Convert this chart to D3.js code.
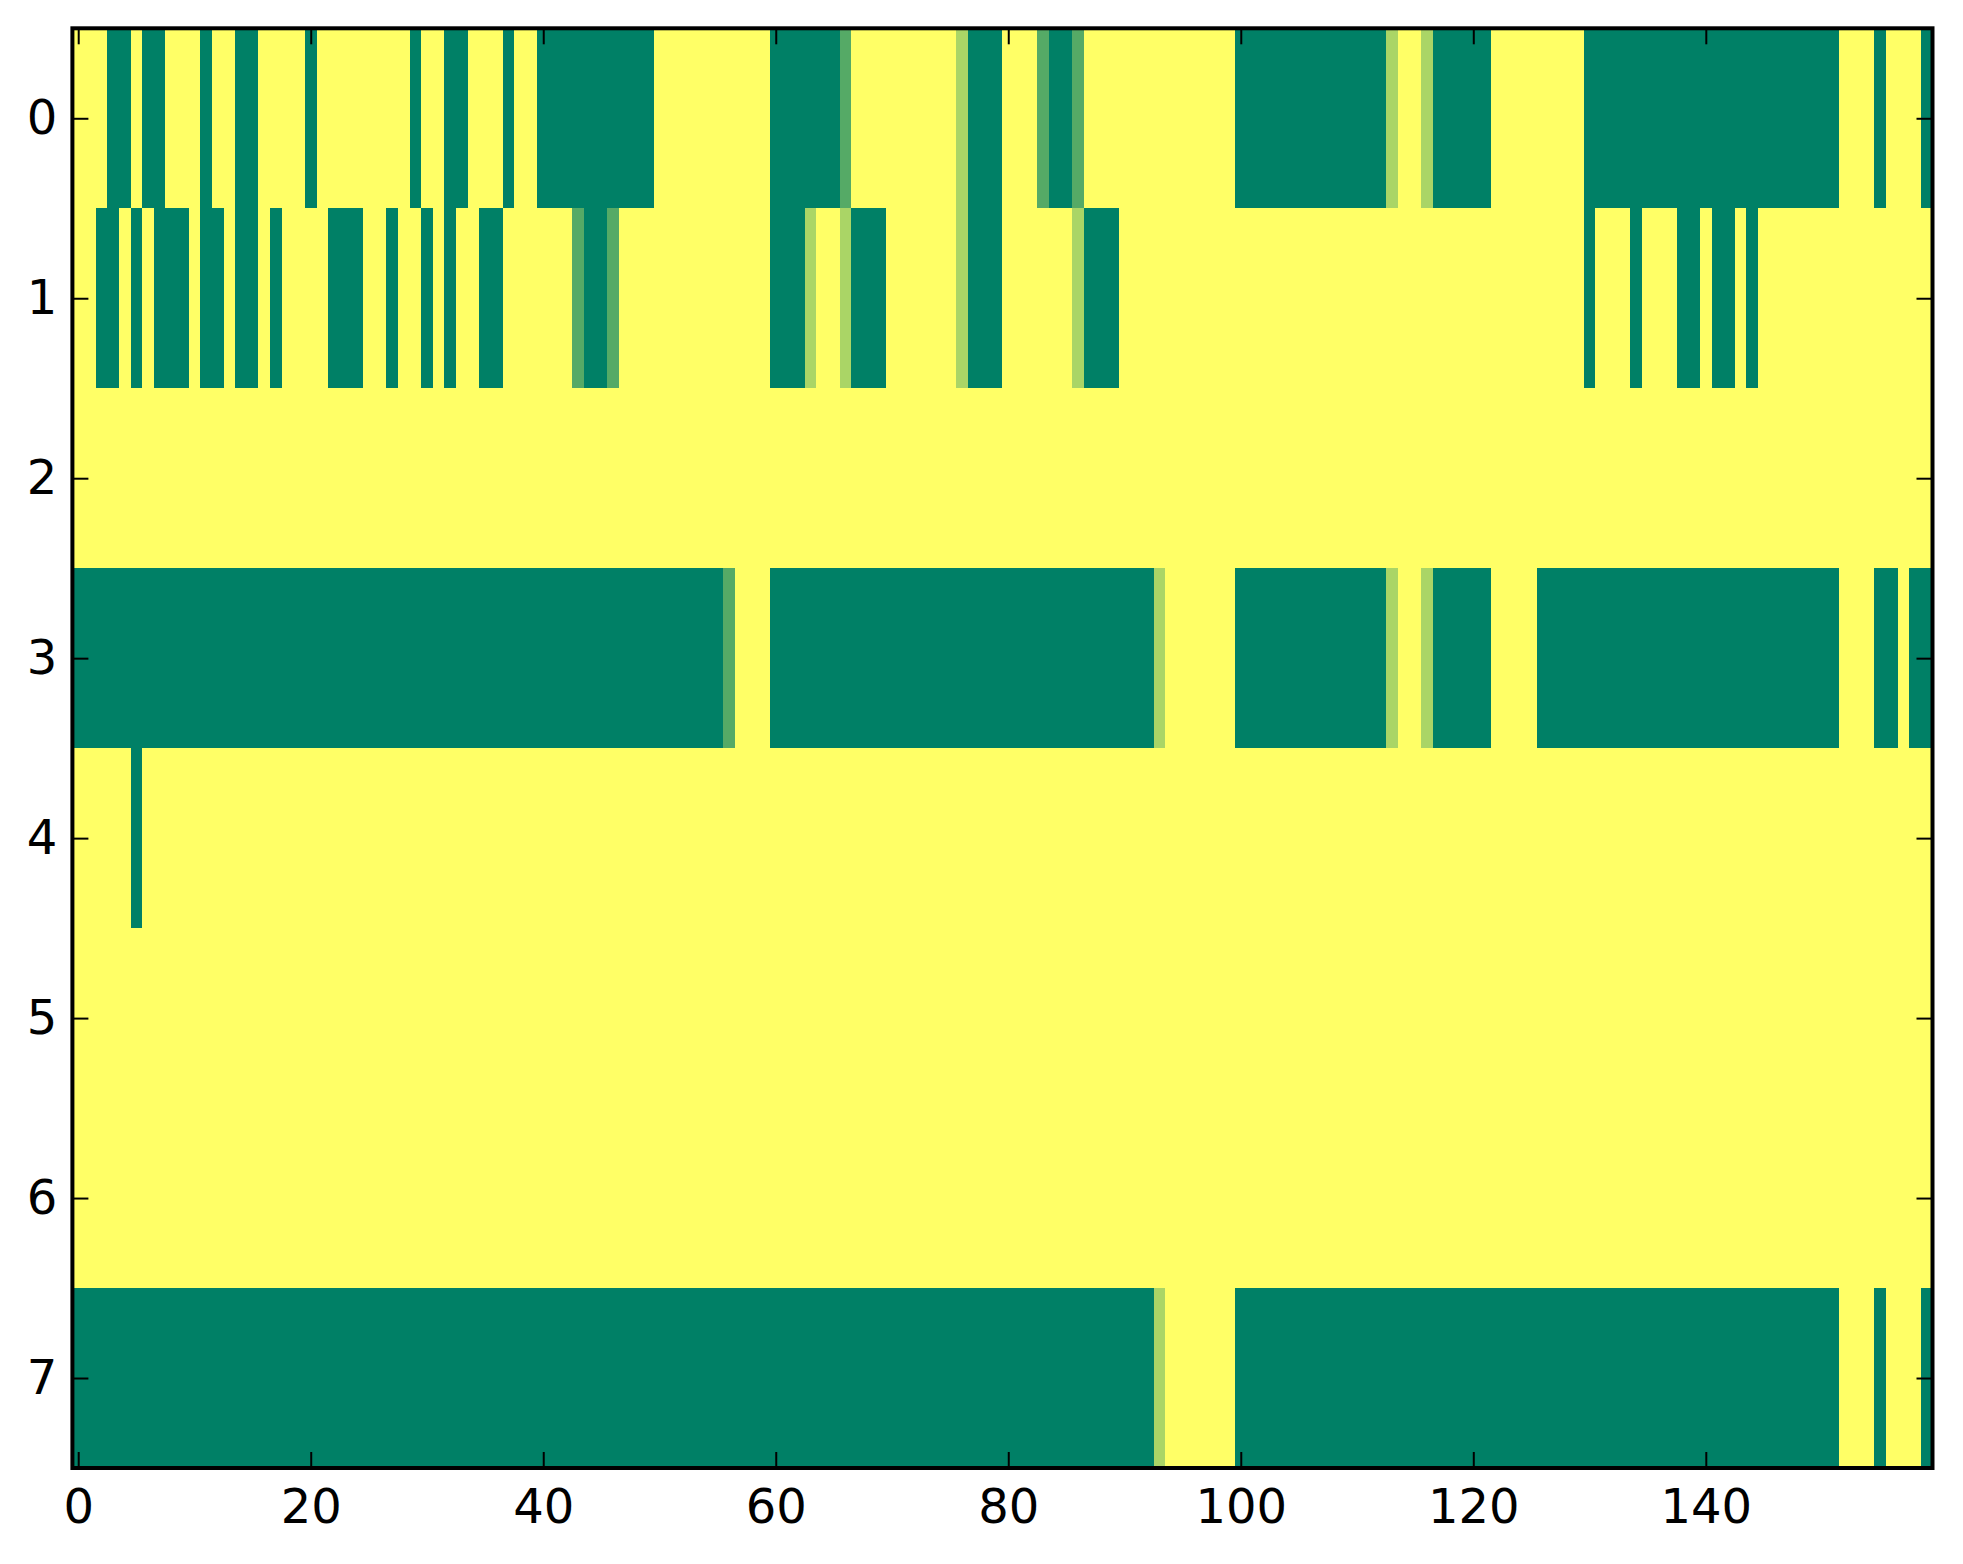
<!DOCTYPE html>
<html>
<head>
<meta charset="utf-8">
<script src="https://cdn.jsdelivr.net/npm/d3@7"></script>
<style>
  body { margin: 0; background: #ffffff; }
  .tick text { font-family: "DejaVu Sans", sans-serif; font-size: 48px; fill: #000; }
  .tick line { stroke: #000; stroke-width: 2; }
</style>
</head>
<body>
<div id="chart"></div>
<script>
var svgWidth = 1963;
var svgHeight = 1564;

// plot area in pixels
var plot = {left: 72.4, right: 1932.5, top: 28.3, bottom: 1468};

// cell levels, 0 = lowest (dark green) ... 3 = highest (yellow), 160 columns per row
var row0 = [3,3,3,0,0,3,0,0,3,3, 3,0,3,3,0,0,3,3,3,3, 0,3,3,3,3,3,3,3,3,0, 3,3,0,0,3,3,3,0,3,3,
            0,0,0,0,0,0,0,0,0,0, 3,3,3,3,3,3,3,3,3,3, 0,0,0,0,0,0,1,3,3,3, 3,3,3,3,3,3,2,0,0,0,
            3,3,3,1,0,0,1,3,3,3, 3,3,3,3,3,3,3,3,3,3, 0,0,0,0,0,0,0,0,0,0, 0,0,0,2,3,3,2,0,0,0,
            0,0,3,3,3,3,3,3,3,3, 0,0,0,0,0,0,0,0,0,0, 0,0,0,0,0,0,0,0,0,0, 0,0,3,3,3,0,3,3,3,0];
var row1 = [3,3,0,0,3,0,3,0,0,0, 3,0,0,3,0,0,3,0,3,3, 3,3,0,0,0,3,3,0,3,3, 0,3,0,3,3,0,0,3,3,3,
            3,3,3,1,0,0,1,3,3,3, 3,3,3,3,3,3,3,3,3,3, 0,0,0,2,3,3,2,0,0,0, 3,3,3,3,3,3,2,0,0,0,
            3,3,3,3,3,3,2,0,0,0, 3,3,3,3,3,3,3,3,3,3, 3,3,3,3,3,3,3,3,3,3, 3,3,3,3,3,3,3,3,3,3,
            3,3,3,3,3,3,3,3,3,3, 0,3,3,3,0,3,3,3,0,0, 3,0,0,3,0,3,3,3,3,3, 3,3,3,3,3,3,3,3,3,3];
var row2 = [3,3,3,3,3,3,3,3,3,3, 3,3,3,3,3,3,3,3,3,3, 3,3,3,3,3,3,3,3,3,3, 3,3,3,3,3,3,3,3,3,3,
            3,3,3,3,3,3,3,3,3,3, 3,3,3,3,3,3,3,3,3,3, 3,3,3,3,3,3,3,3,3,3, 3,3,3,3,3,3,3,3,3,3,
            3,3,3,3,3,3,3,3,3,3, 3,3,3,3,3,3,3,3,3,3, 3,3,3,3,3,3,3,3,3,3, 3,3,3,3,3,3,3,3,3,3,
            3,3,3,3,3,3,3,3,3,3, 3,3,3,3,3,3,3,3,3,3, 3,3,3,3,3,3,3,3,3,3, 3,3,3,3,3,3,3,3,3,3];
var row3 = [0,0,0,0,0,0,0,0,0,0, 0,0,0,0,0,0,0,0,0,0, 0,0,0,0,0,0,0,0,0,0, 0,0,0,0,0,0,0,0,0,0,
            0,0,0,0,0,0,0,0,0,0, 0,0,0,0,0,0,1,3,3,3, 0,0,0,0,0,0,0,0,0,0, 0,0,0,0,0,0,0,0,0,0,
            0,0,0,0,0,0,0,0,0,0, 0,0,0,2,3,3,3,3,3,3, 0,0,0,0,0,0,0,0,0,0, 0,0,0,2,3,3,2,0,0,0,
            0,0,3,3,3,3,0,0,0,0, 0,0,0,0,0,0,0,0,0,0, 0,0,0,0,0,0,0,0,0,0, 0,0,3,3,3,0,0,3,0,0];
var row4 = [3,3,3,3,3,0,3,3,3,3, 3,3,3,3,3,3,3,3,3,3, 3,3,3,3,3,3,3,3,3,3, 3,3,3,3,3,3,3,3,3,3,
            3,3,3,3,3,3,3,3,3,3, 3,3,3,3,3,3,3,3,3,3, 3,3,3,3,3,3,3,3,3,3, 3,3,3,3,3,3,3,3,3,3,
            3,3,3,3,3,3,3,3,3,3, 3,3,3,3,3,3,3,3,3,3, 3,3,3,3,3,3,3,3,3,3, 3,3,3,3,3,3,3,3,3,3,
            3,3,3,3,3,3,3,3,3,3, 3,3,3,3,3,3,3,3,3,3, 3,3,3,3,3,3,3,3,3,3, 3,3,3,3,3,3,3,3,3,3];
var row5 = [3,3,3,3,3,3,3,3,3,3, 3,3,3,3,3,3,3,3,3,3, 3,3,3,3,3,3,3,3,3,3, 3,3,3,3,3,3,3,3,3,3,
            3,3,3,3,3,3,3,3,3,3, 3,3,3,3,3,3,3,3,3,3, 3,3,3,3,3,3,3,3,3,3, 3,3,3,3,3,3,3,3,3,3,
            3,3,3,3,3,3,3,3,3,3, 3,3,3,3,3,3,3,3,3,3, 3,3,3,3,3,3,3,3,3,3, 3,3,3,3,3,3,3,3,3,3,
            3,3,3,3,3,3,3,3,3,3, 3,3,3,3,3,3,3,3,3,3, 3,3,3,3,3,3,3,3,3,3, 3,3,3,3,3,3,3,3,3,3];
var row6 = [3,3,3,3,3,3,3,3,3,3, 3,3,3,3,3,3,3,3,3,3, 3,3,3,3,3,3,3,3,3,3, 3,3,3,3,3,3,3,3,3,3,
            3,3,3,3,3,3,3,3,3,3, 3,3,3,3,3,3,3,3,3,3, 3,3,3,3,3,3,3,3,3,3, 3,3,3,3,3,3,3,3,3,3,
            3,3,3,3,3,3,3,3,3,3, 3,3,3,3,3,3,3,3,3,3, 3,3,3,3,3,3,3,3,3,3, 3,3,3,3,3,3,3,3,3,3,
            3,3,3,3,3,3,3,3,3,3, 3,3,3,3,3,3,3,3,3,3, 3,3,3,3,3,3,3,3,3,3, 3,3,3,3,3,3,3,3,3,3];
var row7 = [0,0,0,0,0,0,0,0,0,0, 0,0,0,0,0,0,0,0,0,0, 0,0,0,0,0,0,0,0,0,0, 0,0,0,0,0,0,0,0,0,0,
            0,0,0,0,0,0,0,0,0,0, 0,0,0,0,0,0,0,0,0,0, 0,0,0,0,0,0,0,0,0,0, 0,0,0,0,0,0,0,0,0,0,
            0,0,0,0,0,0,0,0,0,0, 0,0,0,2,3,3,3,3,3,3, 0,0,0,0,0,0,0,0,0,0, 0,0,0,0,0,0,0,0,0,0,
            0,0,0,0,0,0,0,0,0,0, 0,0,0,0,0,0,0,0,0,0, 0,0,0,0,0,0,0,0,0,0, 0,0,3,3,3,0,3,3,3,0];

var rows = [row0, row1, row2, row3, row4, row5, row6, row7];

var xTicks = [0, 20, 40, 60, 80, 100, 120, 140];
var yTicks = [0, 1, 2, 3, 4, 5, 6, 7];

var nCols = row0.length;
var nRows = rows.length;

var svg = d3.select("#chart")
    .append("svg")
    .attr("width", svgWidth)
    .attr("height", svgHeight);

svg.append("rect")
    .attr("width", svgWidth)
    .attr("height", svgHeight)
    .attr("fill", "#ffffff");

var xScale = d3.scaleLinear()
    .domain([-0.5, nCols - 0.5])
    .range([plot.left, plot.right]);

var yScale = d3.scaleLinear()
    .domain([-0.5, nRows - 0.5])
    .range([plot.top, plot.bottom]);

// "summer" colormap: dark green -> yellow, linear in rgb
var color = d3.scaleLinear()
    .domain([0, 3])
    .range(["#008066", "#ffff66"])
    .interpolate(d3.interpolateRgb);

// flatten rows into cells
var cells = [];
rows.forEach(function(r, j) {
    r.forEach(function(v, i) {
        cells.push({col: i, row: j, value: v});
    });
});

svg.append("g")
    .selectAll("rect")
    .data(cells)
    .enter()
    .append("rect")
    .attr("x", d => xScale(d.col - 0.5))
    .attr("y", d => yScale(d.row - 0.5))
    .attr("width", d => xScale(d.col + 0.5) - xScale(d.col - 0.5) + 0.5)
    .attr("height", d => yScale(d.row + 0.5) - yScale(d.row - 0.5) + 0.5)
    .attr("fill", d => color(d.value))
    .attr("shape-rendering", "crispEdges");

// axes, ticks pointing inwards like matplotlib classic
var bottomAxis = d3.axisBottom(xScale).tickValues(xTicks).tickSizeInner(-16).tickSizeOuter(0).tickPadding(21);
var topAxis = d3.axisTop(xScale).tickValues(xTicks).tickSizeInner(-16).tickSizeOuter(0).tickFormat("");
var leftAxis = d3.axisLeft(yScale).tickValues(yTicks).tickSizeInner(-16).tickSizeOuter(0).tickPadding(15);
var rightAxis = d3.axisRight(yScale).tickValues(yTicks).tickSizeInner(-16).tickSizeOuter(0).tickFormat("");

svg.append("g").attr("transform", `translate(0, ${plot.bottom})`).call(bottomAxis);
svg.append("g").attr("transform", `translate(0, ${plot.top})`).call(topAxis);
svg.append("g").attr("transform", `translate(${plot.left}, 0)`).call(leftAxis);
svg.append("g").attr("transform", `translate(${plot.right}, 0)`).call(rightAxis);

svg.selectAll(".domain").remove();

// frame
svg.append("rect")
    .attr("x", plot.left)
    .attr("y", plot.top)
    .attr("width", plot.right - plot.left)
    .attr("height", plot.bottom - plot.top)
    .attr("fill", "none")
    .attr("stroke", "#000")
    .attr("stroke-width", 4);
</script>
</body>
</html>
